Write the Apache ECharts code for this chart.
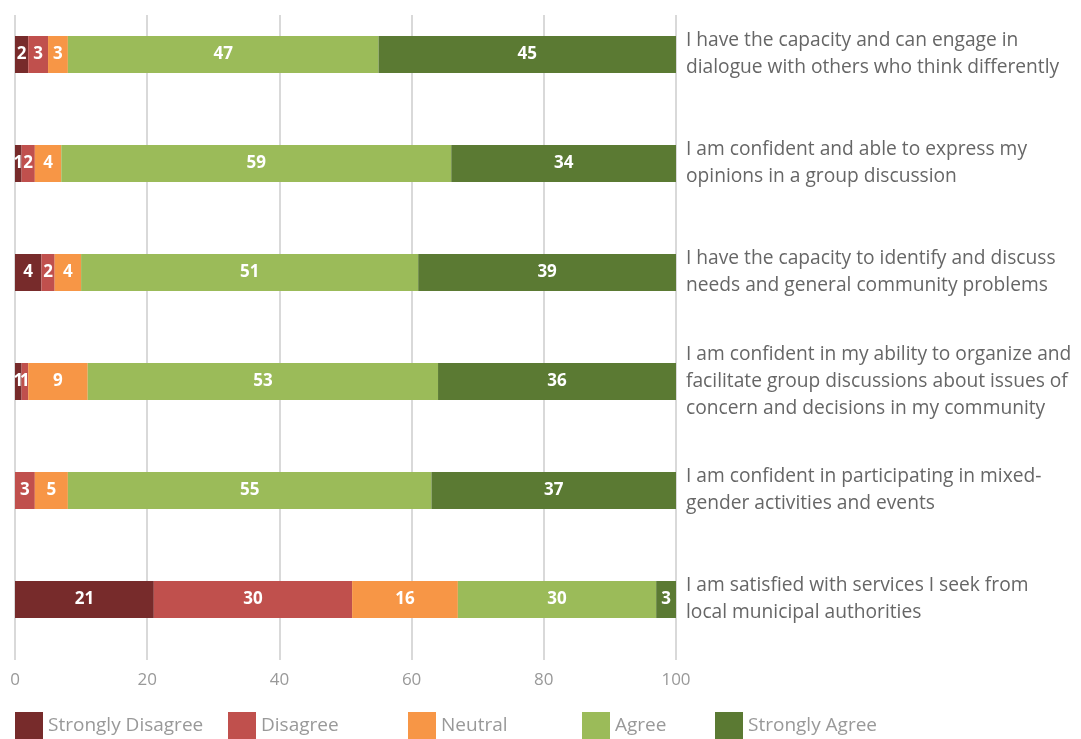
<!DOCTYPE html>
<html>
<head>
<meta charset="utf-8">
<script src="https://cdn.jsdelivr.net/npm/echarts@6/dist/echarts.min.js"></script>
<style>html,body{margin:0;padding:0;background:#fff;}#c{width:1081px;height:739px;}</style>
</head>
<body>
<div id="c"></div>
<script>
const categories = [
  "I have the capacity and can engage in\ndialogue with others who think differently",
  "I am confident and able to express my\nopinions in a group discussion",
  "I have the capacity to identify and discuss\nneeds and general community problems",
  "I am confident in my ability to organize and\nfacilitate group discussions about issues of\nconcern and decisions in my community",
  "I am confident in participating in mixed-\ngender activities and events",
  "I am satisfied with services I seek from\nlocal municipal authorities"
];
const seriesNames = ["Strongly Disagree", "Disagree", "Neutral", "Agree", "Strongly Agree"];
const stronglyDisagree = [2, 1, 4, 1, 0, 21];
const disagree = [3, 2, 2, 1, 3, 30];
const neutral = [3, 4, 4, 9, 5, 16];
const agree = [47, 59, 51, 53, 55, 30];
const stronglyAgree = [45, 34, 39, 36, 37, 3];
const xTicks = [0, 20, 40, 60, 80, 100];

const colors = ["#772b2b", "#c0504d", "#f79646", "#9bbb59", "#5b7a33"];
const values = [stronglyDisagree, disagree, neutral, agree, stronglyAgree];
const legendLeft = [15, 228, 408, 582, 715];
const FONT = "Open Sans";

const chart = echarts.init(document.getElementById('c'));
chart.setOption({
  animation: false,
  textStyle: { fontFamily: FONT },
  grid: [
    { left: 15, width: 661, top: -2, height: 656 },
    { left: 15, width: 661, top: 15, height: 645 }
  ],
  xAxis: [
    { gridIndex: 0, type: 'value', min: 0, max: 100, show: false },
    { gridIndex: 1, type: 'value', min: xTicks[0], max: xTicks[xTicks.length - 1], interval: 20,
      axisLine: { show: false }, axisTick: { show: false },
      splitLine: { show: true, lineStyle: { color: '#cccccc', width: 1.5 } },
      axisLabel: { color: '#999', fontSize: 17, margin: 12, fontFamily: FONT,
        formatter: v => xTicks.includes(v) ? String(v) : '' } }
  ],
  yAxis: [
    { gridIndex: 0, type: 'category', data: categories, inverse: true, position: 'right',
      axisLine: { show: false }, axisTick: { show: false }, splitLine: { show: false },
      axisLabel: { color: '#666', fontSize: 19.2, lineHeight: 27, margin: 10, align: 'left', fontFamily: FONT } },
    { gridIndex: 1, type: 'value', min: 0, max: 1, show: false }
  ],
  legend: seriesNames.map((n, i) => ({
    data: [n], left: legendLeft[i], top: 712, itemWidth: 28, itemHeight: 28, itemGap: 0,
    icon: 'rect', textStyle: { color: '#999', fontSize: 19, fontFamily: FONT },
    padding: 0
  })),
  series: seriesNames.map((n, i) => ({
    name: n, type: 'bar', stack: 'total', xAxisIndex: 0, yAxisIndex: 0,
    data: values[i], barWidth: 37,
    itemStyle: { color: colors[i] },
    label: { show: true, position: 'inside', color: '#fff', fontWeight: 'bold', fontSize: 17, fontFamily: FONT,
      formatter: p => p.value > 0 ? String(p.value) : '' }
  }))
});
</script>
</body>
</html>
